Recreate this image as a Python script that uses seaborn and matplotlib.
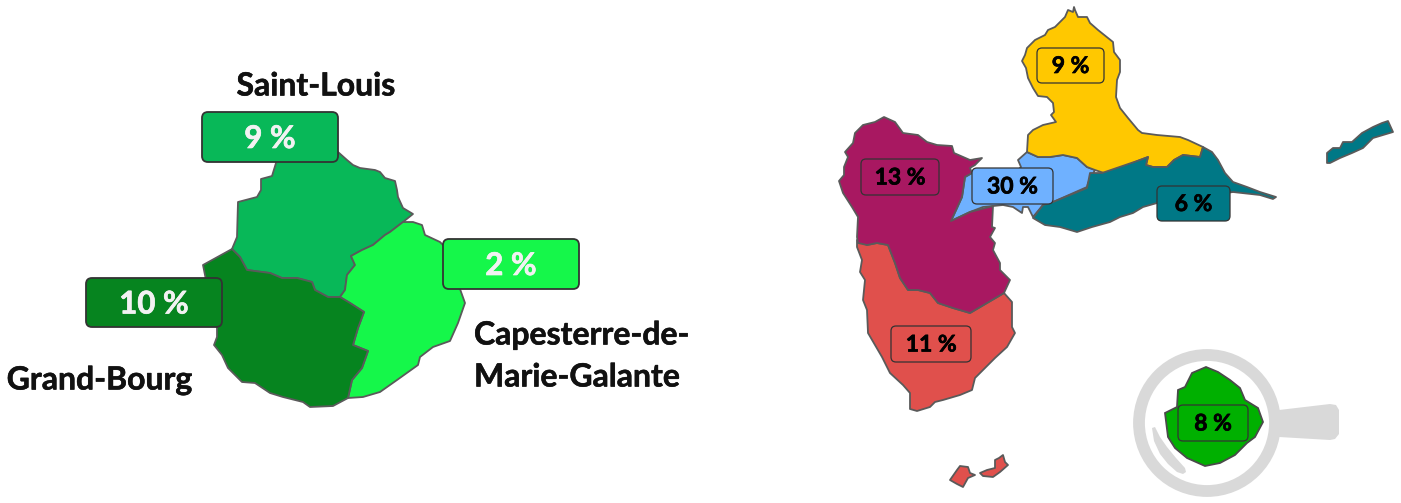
import matplotlib
matplotlib.use("Agg")
import matplotlib.pyplot as plt
from matplotlib.patches import Circle, FancyBboxPatch
import matplotlib.patheffects as pe
import seaborn as sns

# outlines, in pixels of the 1401x503 image
saint_louis = [(338,152),(347,160),(353,165),(360,168),(375,170),(380,172),(385,178),(395,181),(397,190),(398,197),(403,208),(413,214),(403,222),(390,232),(385,235),(373,245),(362,250),(351,256),(355,265),(347,275),(345,290),(340,297),(328,297),(315,290),(312,282),(297,278),(282,278),(270,273),(247,270),(240,257),(232,249),(237,237),(238,202),(257,197),(261,190),(261,179),(272,176),(276,163),(276,150)]
capesterre = [(413,222),(422,225),(425,235),(440,242),(445,247),(465,303),(458,323),(450,341),(433,347),(420,357),(418,365),(397,380),(380,392),(363,397),(348,398),(352,380),(362,368),(368,351),(353,345),(358,328),(364,312),(350,303),(340,297),(345,290),(347,275),(355,265),(351,256),(362,250),(373,245),(385,235),(390,232),(403,222)]
grand_bourg = [(232,249),(240,257),(247,270),(270,273),(282,278),(297,278),(312,282),(315,290),(328,297),(340,297),(350,303),(364,312),(358,328),(353,345),(368,351),(362,368),(352,380),(348,398),(333,406),(310,407),(303,402),(283,397),(270,393),(255,383),(242,382),(228,368),(222,355),(214,345),(217,337),(217,328),(210,300),(203,265)]

nord_grande_terre = [(1074,7),(1073,12),(1068,10),(1065,17),(1060,22),(1055,27),(1048,30),(1045,35),(1035,40),(1027,48),(1025,55),(1022,61),(1026,68),(1028,78),(1033,88),(1038,96),(1047,97),(1053,103),(1054,112),(1051,115),(1056,122),(1043,125),(1033,130),(1028,135),(1027,152),(1038,157),(1050,157),(1063,155),(1077,158),(1087,167),(1095,170),(1107,174),(1140,160),(1148,157),(1146,165),(1153,167),(1167,167),(1174,160),(1183,155),(1200,157),(1203,147),(1188,140),(1180,137),(1157,135),(1142,133),(1138,130),(1128,118),(1120,108),(1116,97),(1117,80),(1120,72),(1120,60),(1114,52),(1113,42),(1108,38),(1098,30),(1090,23),(1087,17),(1078,17),(1075,10)]
centre = [(1027,152),(1038,157),(1050,157),(1063,155),(1077,158),(1087,167),(1095,170),(1088,183),(1087,187),(1053,202),(1043,205),(1033,217),(1028,207),(1023,207),(1022,213),(1013,207),(1003,205),(993,206),(983,207),(970,212),(951,221),(957,208),(962,197),(965,177),(972,173),(1016,172),(1021,167),(1018,160)]
sud_grande_terre = [(1203,147),(1212,152),(1218,160),(1225,173),(1233,182),(1247,187),(1260,192),(1276,197),(1273,199),(1260,195),(1233,192),(1157,203),(1143,207),(1133,213),(1120,217),(1110,222),(1092,227),(1077,232),(1060,227),(1045,225),(1033,218),(1043,205),(1053,202),(1087,188),(1090,173),(1102,173),(1140,160),(1148,157),(1146,165),(1153,167),(1167,167),(1174,160),(1183,155),(1200,157)]
desirade = [(1327,163),(1327,153),(1333,148),(1340,148),(1343,142),(1352,142),(1362,133),(1373,127),(1382,123),(1388,121),(1393,132),(1383,135),(1373,138),(1363,148),(1352,153),(1340,158),(1330,163)]
nord_basse_terre = [(884,117),(895,122),(903,133),(918,135),(927,142),(937,145),(952,146),(954,153),(970,160),(982,158),(975,165),(970,168),(972,173),(965,177),(962,197),(957,208),(951,221),(970,212),(993,206),(992,227),(995,228),(990,237),(995,243),(993,250),(1000,263),(1000,270),(1010,280),(1004,293),(987,303),(970,313),(953,308),(938,303),(930,293),(918,290),(908,290),(900,278),(895,263),(888,245),(877,243),(867,245),(858,243),(857,237),(858,217),(852,207),(843,193),(839,181),(844,175),(844,167),(848,157),(845,152),(853,143),(855,133),(863,125),(875,122)]
sud_basse_terre = [(857,240),(867,245),(877,243),(888,245),(895,263),(900,278),(908,290),(918,290),(930,293),(938,303),(953,308),(970,313),(987,303),(1004,293),(1012,302),(1012,327),(1015,333),(1007,347),(995,358),(975,378),(972,390),(960,395),(943,400),(935,402),(930,407),(917,411),(910,409),(910,393),(903,385),(890,373),(882,357),(868,333),(867,310),(863,300),(865,280),(860,272),(862,260),(857,247)]
terre_de_bas = [(950,480),(957,470),(960,466),(968,467),(970,473),(975,475),(968,478),(963,487),(957,484)]
terre_de_haut = [(980,473),(987,470),(995,468),(995,460),(999,458),(1003,455),(1005,462),(1008,465),(1000,472),(993,477),(983,476)]
marie_galante = [(1206,367),(1218,372),(1230,380),(1240,388),(1245,400),(1258,408),(1263,422),(1255,437),(1247,443),(1235,455),(1220,463),(1205,466),(1187,458),(1175,448),(1168,437),(1165,413),(1177,407),(1178,390),(1185,387),(1192,373)]

handle = [(1279,410),(1330,404),(1336,405),(1339,410),(1339,434),(1335,439),(1330,440),(1279,437)]
gloss = [(1152,428),(1155,427),(1160,437),(1167,447),(1176,458),(1185,468),(1186,472),(1183,474),(1177,472),(1168,464),(1160,454),(1154,441)]

# shape, fill
regions = [
    (centre, "#6FB1FF"),
    (nord_grande_terre, "#FFC800"),
    (sud_grande_terre, "#007886"),
    (desirade, "#007886"),
    (sud_basse_terre, "#E0504C"),
    (terre_de_bas, "#E0504C"),
    (terre_de_haut, "#E0504C"),
    (nord_basse_terre, "#A81861"),
    (saint_louis, "#08B858"),
    (capesterre, "#15F74A"),
    (grand_bourg, "#06841F"),
]

# left, top, right, bottom, label, fill
big_boxes = [
    (202, 112, 338, 162, "9 %", "#08B858"),
    (86, 278, 222, 327, "10 %", "#06841F"),
    (443, 239, 579, 289, "2 %", "#15F74A"),
]
small_boxes = [
    (1037, 48, 1104, 83, "9 %", "#FFC800"),
    (861, 159, 939, 195, "13 %", "#A81861"),
    (972, 168, 1053, 204, "30 %", "#6FB1FF"),
    (1157, 186, 1230, 221, "6 %", "#007886"),
    (891, 326, 971, 362, "11 %", "#E0504C"),
    (1178, 405, 1248, 441, "8 %", "#00B000"),
]
names = [
    (316, 86, "Saint-Louis", "center"),
    (100, 380, "Grand-Bourg", "center"),
    (474, 335, "Capesterre-de-", "left"),
    (474, 377, "Marie-Galante", "left"),
]

sns.set_theme(style="white")
plt.rcParams["font.family"] = ["Lato", "DejaVu Sans"]

fig = plt.figure(figsize=(14.01, 5.03), dpi=100)
ax = fig.add_axes([0, 0, 1, 1])
ax.set_xlim(0, 1401)
ax.set_ylim(503, 0)
ax.axis("off")

GREY = "#D9D9D9"
ax.add_patch(Circle((1207, 423), 68, facecolor="none", edgecolor=GREY, linewidth=8.5))
ax.fill(*zip(*handle), color=GREY, linewidth=0)
ax.fill(*zip(*gloss), color=GREY, linewidth=0)
ax.fill(*zip(*marie_galante), facecolor="#00B000", edgecolor="#4A4A4A", linewidth=1.3)

for shape, colour in regions:
    ax.fill(*zip(*shape), facecolor=colour, edgecolor="#5A5A5A", linewidth=1.3, joinstyle="round")


def draw_box(box, text_colour, size, lw, pad, dy):
    x0, y0, x1, y1, label, colour = box
    ax.add_patch(FancyBboxPatch(
        (x0 + pad, y0 + pad), x1 - x0 - 2 * pad, y1 - y0 - 2 * pad,
        boxstyle=f"round,pad={pad},rounding_size={pad}",
        facecolor=colour, edgecolor="#333333", linewidth=lw, zorder=5
    ))
    ax.text((x0 + x1) / 2, (y0 + y1) / 2 + dy, label, color=text_colour, fontsize=size,
            fontweight="bold", ha="center", va="center", zorder=6,
            path_effects=[pe.withStroke(linewidth=0.5, foreground=text_colour)])


for box in big_boxes:
    draw_box(box, "#F2F2F2", 22.5, 1.3, 6, 2)
for box in small_boxes:
    draw_box(box, "black", 16.5, 0.9, 5, 1)

for x, y, label, align in names:
    ax.text(x, y, label, color="#111111", fontsize=23, fontweight="bold", ha=align, va="center",
            path_effects=[pe.withStroke(linewidth=0.4, foreground="#111111")])

sns.despine(ax=ax, left=True, bottom=True)
fig.savefig("out.png", dpi=100)
plt.close(fig)
